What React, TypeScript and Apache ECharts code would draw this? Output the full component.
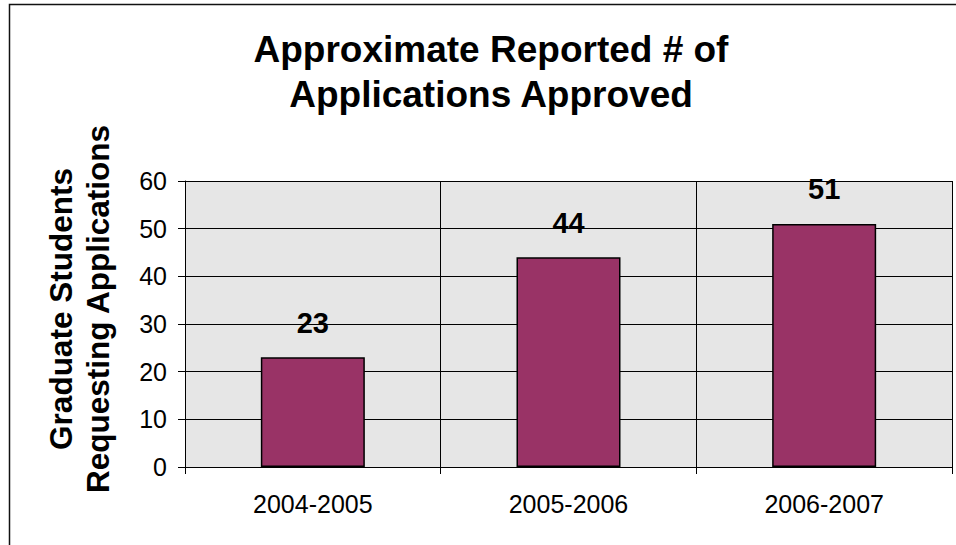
import React, { useEffect, useRef } from "react";
import * as echarts from "echarts";

const titleLines = ["Approximate Reported # of", "Applications Approved"];
const yNameLines = ["Graduate Students", "Requesting Applications"];
const categories = ["2004-2005", "2005-2006", "2006-2007"];
const values = [23, 44, 51];
const yTicks = { min: 0, max: 60, interval: 10 };

const FONT = "'Liberation Sans', Arial, sans-serif";

export default function App() {
  const ref = useRef<HTMLDivElement>(null);
  useEffect(() => {
    if (!ref.current) return;
    const chart = echarts.init(ref.current, undefined, { renderer: "svg" });
    chart.setOption({
      animation: false,
      backgroundColor: "#ffffff",
      title: {
        text: titleLines.join("\n"),
        left: 491,
        top: 27,
        textAlign: "center",
        padding: 0,
        textStyle: {
          fontFamily: FONT,
          fontSize: 37,
          fontWeight: "bold",
          color: "#000",
          lineHeight: 45,
        },
      },
      graphic: [
        {
          type: "rect",
          shape: { x: 9.5, y: 4.5, width: 1200, height: 1200 },
          style: { fill: "none", stroke: "#111", lineWidth: 1.5 },
          silent: true,
          z: 100,
        },
        {
          type: "text",
          x: 79,
          y: 309,
          rotation: Math.PI / 2,
          style: {
            text: yNameLines.join("\n"),
            fontFamily: FONT,
            fontSize: 31.5,
            fontWeight: "bold",
            fill: "#000",
            align: "center",
            verticalAlign: "middle",
            lineHeight: 37,
          },
        },
      ],
      grid: {
        left: 185,
        right: 4,
        top: 181,
        bottom: 78,
        show: true,
        backgroundColor: "#e6e6e6",
        borderWidth: 0,
      },
      xAxis: {
        type: "category",
        data: categories,
        axisLine: { show: true, lineStyle: { color: "#000", width: 1 } },
        axisTick: { show: true, length: 7, lineStyle: { color: "#000" } },
        splitLine: { show: true, lineStyle: { color: "#000", width: 1 } },
        axisLabel: {
          fontFamily: FONT,
          fontSize: 25,
          color: "#000",
          margin: 24,
        },
      },
      yAxis: {
        type: "value",
        min: yTicks.min,
        max: yTicks.max,
        interval: yTicks.interval,
        axisLine: { show: true, lineStyle: { color: "#000", width: 1 } },
        axisTick: { show: true, length: 7, lineStyle: { color: "#000" } },
        splitLine: { show: true, lineStyle: { color: "#000", width: 1 } },
        axisLabel: {
          fontFamily: FONT,
          fontSize: 25,
          color: "#000",
          margin: 18,
        },
      },
      series: [
        {
          type: "bar",
          data: values,
          barWidth: 104,
          itemStyle: { color: "#993366", borderColor: "#000", borderWidth: 1.5 },
          label: {
            show: true,
            position: "top",
            distance: 20,
            fontFamily: FONT,
            fontSize: 29,
            fontWeight: "bold",
            color: "#000",
          },
        },
      ],
    });
    return () => chart.dispose();
  }, []);
  return (
    <div
      ref={ref}
      style={{ position: "fixed", left: 0, top: 0, width: 956, height: 545 }}
    />
  );
}
